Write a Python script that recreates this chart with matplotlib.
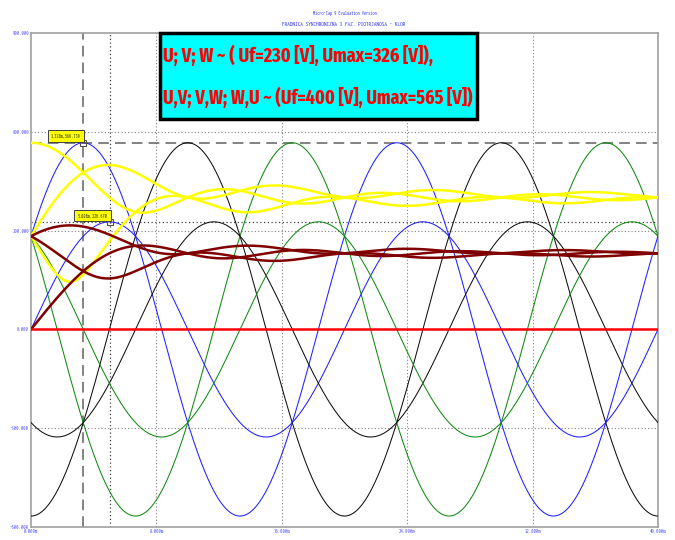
import re
import numpy as np
import matplotlib
matplotlib.use("Agg")
import matplotlib.pyplot as plt
from matplotlib import font_manager as fm
from matplotlib.patches import Rectangle

# ---- data -------------------------------------------------------------
freq_hz = 50.0
t_end_ms = 40.0
phase_amp = 326.67          # peak of phase voltages U, V, W
line_amp = 566.74           # peak of line voltages U,V  V,W  W,U
phase_names = ["U", "V", "W"]
phase_angles_deg = [0.0, -120.0, 120.0]
line_names = ["U,V", "V,W", "W,U"]
line_angles_deg = [30.0, -90.0, 150.0]
wave_colors = ["#2020ff", "#101010", "#108a10"]

cursor_times_ms = [3.328, 5.028]
cursor_values = [566.739, 326.670]
cursor_labels = ["3.328m,566.739", "5.028m,326.670"]

x_ticks = [0, 8, 16, 24, 32, 40]
x_tick_labels = ["0.000m", "8.000m", "16.000m", "24.000m", "32.000m", "40.000m"]
y_ticks = [-600, -300, 0, 300, 600, 900]
y_tick_labels = ["-600.000", "-300.000", "0.000", "300.000", "600.000", "900.000"]

title_lines = ["Micro-Cap 9 Evaluation Version",
               "FRADNICA SYNCHRONIZNA 3 FAZ. PIOTRJANOSA - KLOR"]
note_lines = ["U; V; W ~ ( Uf=230 [V], Umax=326 [V]),",
              "U,V; V,W; W,U ~ (Uf=400 [V], Umax=565 [V])"]


# ---- fonts: prefer a narrow face ---------------------------------------
def pick_font(bold):
    files = [f.fname for f in fm.fontManager.ttflist]
    narrow = [p for p in files if re.search(r"narrow|condensed", p, re.I)]
    if bold:
        prefs = [r"ExtraCondensed-?Bold\.", r"Condensed-?Bold\.", r"Narrow-?Bold\.", r"Bold"]
    else:
        prefs = [r"ExtraCondensed\.", r"Condensed\.", r"Narrow-?Regular\.", r"Narrow\.",
                 r"Condensed-?Regular\."]
    for pat in prefs:
        hits = sorted(p for p in narrow if re.search(pat, p))
        if hits:
            return fm.FontProperties(fname=hits[0])
    return fm.FontProperties(family="DejaVu Sans", weight="bold" if bold else "normal")


fp_bold = pick_font(True)
fp_reg = pick_font(False)

# ---- signals ----------------------------------------------------------
t = np.linspace(0.0, t_end_ms, 8001)
theta = 2 * np.pi * freq_hz * t / 1000.0


def wave(amp, ang_deg):
    return amp * np.sin(theta + np.radians(ang_deg))


def running_rms(v):
    sq = v ** 2
    cum = np.concatenate([[0.0], np.cumsum(0.5 * (sq[1:] + sq[:-1]) * np.diff(t))])
    out = np.empty_like(v)
    out[0] = abs(v[0])
    out[1:] = np.sqrt(cum[1:] / t[1:])
    return out


phase_waves = [wave(phase_amp, a) for a in phase_angles_deg]
line_waves = [wave(line_amp, a) for a in line_angles_deg]

# ---- figure -----------------------------------------------------------
W, H = 675, 540
fig = plt.figure(figsize=(W / 100, H / 100), dpi=100)
fig.patch.set_facecolor("white")
renderer = fig.canvas.get_renderer()


def fit_width(txt, width_px):
    """Scale a text's font size so that it spans width_px pixels."""
    w = txt.get_window_extent(renderer).width
    if w > 0:
        txt.set_fontsize(txt.get_fontsize() * width_px / w)
    return txt


L, R, T, B = 31, 658, 33, 527
ax = fig.add_axes([L / W, 1 - B / H, (R - L) / W, (B - T) / H])
ax.set_xlim(0, t_end_ms)
ax.set_ylim(-600, 900)

for s in ax.spines.values():
    s.set_color("#a0a0a0")
    s.set_linewidth(1.2)

ax.set_xticks(x_ticks)
ax.set_yticks(y_ticks)
ax.set_xticklabels(x_tick_labels, color="#5050ff", fontproperties=fp_reg)
ax.set_yticklabels(y_tick_labels, color="#5050ff", fontproperties=fp_reg)
ax.tick_params(length=0, pad=1.5)
fig.canvas.draw()
probe = ax.get_yticklabels()[0]
w0 = probe.get_window_extent(renderer).width
tick_size = probe.get_fontsize() * 19.0 / max(w0, 1)
for lab in ax.get_xticklabels() + ax.get_yticklabels():
    lab.set_fontsize(tick_size)

for yv in (600, 300, -300):
    ax.axhline(yv, color="#808080", lw=0.8, ls=(0, (1, 2)), zorder=1)
for xv in (8, 16, 24, 32):
    ax.axvline(xv, color="#808080", lw=0.8, ls=(0, (1, 2)), zorder=1)

# cursors
ax.axvline(cursor_times_ms[0], color="#606060", lw=1.1, ls=(0, (7, 4)), zorder=2)
ax.axhline(cursor_values[0], color="#606060", lw=1.1, ls=(0, (7, 4)), zorder=2)
ax.axvline(cursor_times_ms[1], color="#404040", lw=0.9, ls=(0, (1, 2)), zorder=2)
ax.axhline(cursor_values[1], color="#404040", lw=0.9, ls=(0, (1, 2)), zorder=2)

# waveforms
for v, c in zip(line_waves, wave_colors):
    ax.plot(t, v, color=c, lw=0.75, zorder=3)
for v, c in zip(phase_waves, wave_colors):
    ax.plot(t, v, color=c, lw=0.75, zorder=3)

for v in line_waves:
    ax.plot(t, running_rms(v), color="#ffff00", lw=1.8, zorder=4)
for v in phase_waves:
    ax.plot(t, running_rms(v), color="#800000", lw=1.8, zorder=4)

ax.plot([0, t_end_ms], [0, 0], color="#ff0000", lw=1.8, zorder=5)

# cursor markers and read-outs
for tm, val, lab in zip(cursor_times_ms, cursor_values, cursor_labels):
    ax.plot([tm], [val], marker="s", ms=5, mfc="none", mec="#505050", mew=0.8, zorder=6)
    tx = ax.text(tm - 0.15, val + 12, lab, ha="right", va="bottom", fontproperties=fp_reg,
                 color="#202020", zorder=7,
                 bbox=dict(boxstyle="square,pad=0.55", fc="#ffff00", ec="#404040", lw=0.7))
    fit_width(tx, 30)

# header
for (cx, cy, w_px), line in zip(((345, 13, 64), (344, 25, 122)), title_lines):
    tx = fig.text(cx / W, 1 - cy / H, line, ha="center", va="center",
                  fontproperties=fp_reg, color="#3030ff")
    fit_width(tx, w_px)

# note box
bx0, by0, bx1, by1 = 160, 33, 477, 119
fig.add_artist(Rectangle((bx0 / W, 1 - by1 / H), (bx1 - bx0) / W, (by1 - by0) / H,
                         transform=fig.transFigure, fc="#00ffff", ec="black", lw=2.5,
                         zorder=10))
for (yy, w_px), line in zip(((55, 270), (97, 310)), note_lines):
    tx = fig.text(163 / W, 1 - yy / H, line, ha="left", va="center",
                  fontproperties=fp_bold, color="#ff0000", zorder=11)
    tx.set_fontsize(20)
    fit_width(tx, w_px)

fig.savefig("out.png", dpi=100)
